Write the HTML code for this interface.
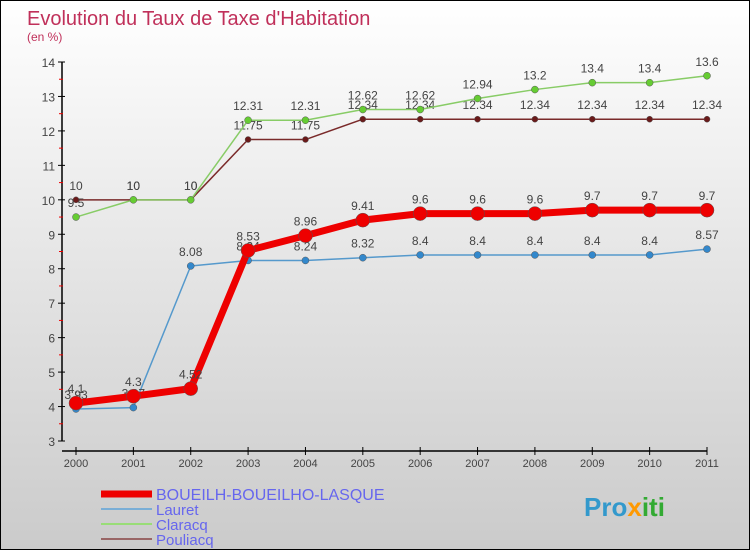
<!DOCTYPE html>
<html><head><meta charset="utf-8"><style>
body{margin:0}
#c{width:750px;height:550px;position:relative;overflow:hidden;box-sizing:border-box;border:1px solid #000;background:linear-gradient(#fff,#e4e4e4 50%,#cbcbcb);font-family:"Liberation Sans",sans-serif}
</style></head><body>
<div id="c">
<svg id="s" width="750" height="550" style="position:absolute;left:0;top:0">
<text x="26" y="24" font-size="20" fill="#c0305a">Evolution du Taux de Taxe d'Habitation</text>
<text x="26" y="40" font-size="12" fill="#c0305a">(en %)</text>
</svg>
</div>
<script>
const years=[2000,2001,2002,2003,2004,2005,2006,2007,2008,2009,2010,2011];
const yTicks=[3,4,5,6,7,8,9,10,11,12,13,14];
const boueilh=[4.1,4.3,4.52,8.53,8.96,9.41,9.6,9.6,9.6,9.7,9.7,9.7];
const lauret=[3.93,3.97,8.08,8.24,8.24,8.32,8.4,8.4,8.4,8.4,8.4,8.57];
const claracq=[9.5,10,10,12.31,12.31,12.62,12.62,12.94,13.2,13.4,13.4,13.6];
const pouliacq=[10,10,10,11.75,11.75,12.34,12.34,12.34,12.34,12.34,12.34,12.34];
const names=["BOUEILH-BOUEILHO-LASQUE","Lauret","Claracq","Pouliacq"];
const s=document.getElementById('s'),NS="http://www.w3.org/2000/svg";
const X=i=>75+i*(706-75)/(years.length-1);
const Y=v=>440-(v-3)*(440-61)/11;
function el(t,a,p){const e=document.createElementNS(NS,t);for(const k in a)e.setAttribute(k,a[k]);(p||s).appendChild(e);return e;}
const axis=el('path',{d:`M61 61V440 M61 450H706`,stroke:'#000','stroke-width':1.5,fill:'none'});


yTicks.forEach(v=>{
 el('line',{x1:57,x2:64,y1:Y(v),y2:Y(v),stroke:'#000'});
 if(v<14){el('line',{x1:58,x2:62,y1:Y(v+0.5),y2:Y(v+0.5),stroke:'#e00'});}
 const t=el('text',{x:54,y:Y(v)+5,'font-size':12,fill:'#444','text-anchor':'end'});t.textContent=v;
 
 
});
years.forEach((y,i)=>{
 el('line',{x1:X(i),x2:X(i),y1:446,y2:454,stroke:'#000'});
 const t=el('text',{x:X(i),y:466,'font-size':11,fill:'#444','text-anchor':'middle'});t.textContent=y;
 
 
});
const series=[[pouliacq,'#7a2a2a',1.5,3,'#6a1a1a'],[claracq,'#88cc66',1.5,3.5,'#66cc33'],[lauret,'#5599cc',1.5,3.5,'#3388cc'],[boueilh,'#ee0000',7,7,'#ee0000']];
const snames=['series-pouliacq','series-claracq','series-lauret','series-boueilh'];
series.forEach(([d,c,w,r,mc],k)=>{
 const g=el('g',{});
 
 
 el('polyline',{points:d.map((v,i)=>X(i)+','+Y(v)).join(' '),stroke:c,'stroke-width':w,fill:'none','stroke-linejoin':'round'},g);
 d.forEach((v,i)=>{
  const p=el('circle',{cx:X(i),cy:Y(v),r:r,fill:mc,stroke:'#555','stroke-width':0.5},g);
  
  
  const t=el('text',{x:X(i),y:Y(v)-10,'font-size':12,fill:'#444','text-anchor':'middle'},g);t.textContent=v;
 });
});
const lg=[['#ee0000',7],['#7aaed6',2],['#99dd77',2],['#996666',2]];
lg.forEach(([c,w],k)=>{
 const y=493+k*15;
 const g=el('g',{});
 
 
 el('line',{x1:100,x2:151,y1:y,y2:y,stroke:c,'stroke-width':w},g);
 const t=el('text',{x:155,y:y+6,'font-size':k?15:16,fill:'#6666ee'},g);t.textContent=names[k];
});
const lo=el('text',{x:583,y:515,'font-size':26,'font-weight':'bold',fill:'#3399cc'});
lo.innerHTML='<tspan fill="#3399cc">Pro</tspan><tspan fill="#ff9900">x</tspan><tspan fill="#33aa33">iti</tspan>';


</script>
</body></html>
